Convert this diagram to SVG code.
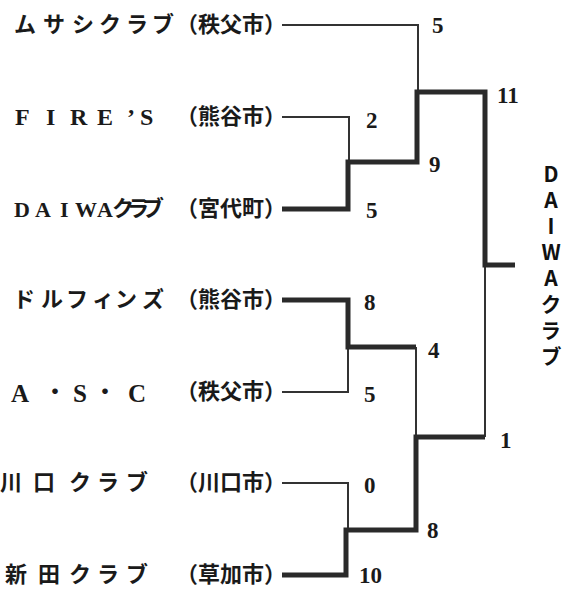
<svg xmlns="http://www.w3.org/2000/svg" width="567" height="589" viewBox="0 0 567 589">
<style>
.jp{font-family:"Noto Sans CJK JP","Noto Sans CJK SC",sans-serif;font-size:22px;font-weight:bold;fill:#1a1a1a}
.city{text-anchor:end}
.ctr{text-anchor:middle}
.lat{font-family:"Liberation Serif","Times New Roman",serif;font-weight:bold;fill:#1a1a1a}
.sc{font-family:"Liberation Serif","Times New Roman",serif;font-size:23px;font-weight:bold;fill:#1a1a1a}
.thin{fill:none;stroke:#333;stroke-width:2}
.thick{fill:none;stroke:#2a2a2a;stroke-width:5}
.win{font-family:"Noto Sans CJK JP",sans-serif;font-size:21px;font-weight:bold;fill:#111;writing-mode:vertical-rl;text-orientation:upright;letter-spacing:5px}
</style>
<rect width="567" height="589" fill="#fff"/>
<g id="team-musashi">
<text class="jp ctr" x="25 54 83 110 137 163" y="32">ムサシクラブ</text>
<text class="jp city" x="286" y="32">（秩父市）</text>
</g>
<g id="team-fires">
<text class="lat" font-size="24" x="15 46 70 97 127 140" y="125">FIRE’S</text>
<text class="jp city" x="286" y="124">（熊谷市）</text>
</g>
<g id="team-daiwa">
<text class="lat" font-size="22" x="14 35 60 75 97" y="217">DAIWA</text>
<text class="jp" font-size="16" x="112 127 142" y="216">クラブ</text>
<text class="jp city" x="286" y="216">（宮代町）</text>
</g>
<g id="team-dolphins">
<text class="jp ctr" x="24 52 77 103 126 153" y="307">ドルフィンズ</text>
<text class="jp city" x="286" y="307">（熊谷市）</text>
</g>
<g id="team-asc">
<text class="lat ctr" font-size="25" x="20" y="402">A</text>
<text class="jp ctr" x="55" y="399">・</text>
<text class="lat ctr" font-size="25" x="80" y="402">S</text>
<text class="jp ctr" x="105" y="399">・</text>
<text class="lat ctr" font-size="25" x="137" y="402">C</text>
<text class="jp city" x="286" y="399">（秩父市）</text>
</g>
<g id="team-kawaguchi">
<text class="jp ctr" x="11 44 80 108 137" y="490">川口クラブ</text>
<text class="jp city" x="286" y="490">（川口市）</text>
</g>
<g id="team-nitta">
<text class="jp ctr" x="16 49 80 108 137" y="582">新田クラブ</text>
<text class="jp city" x="286" y="582">（草加市）</text>
</g>
<g id="connectors">
<path class="thin" d="M282,25 H418 V92"/>
<path class="thin" d="M282,117 H349 V162"/>
<path class="thin" d="M282,392 H348 V347"/>
<path class="thin" d="M416,347 V437"/>
<path class="thin" d="M485,265 V437"/>
<path class="thin" d="M282,483 H348 V530"/>
<path class="thick" d="M282,209 H348 V162 H417 V92 H485 V265 H515"/>
<path class="thick" d="M282,300 H348 V347 H416"/>
<path class="thick" d="M282,575 H346 V530 H416 V437 H485"/>
</g>
<g id="scores">
<text class="sc" x="432" y="33">5</text>
<text class="sc" x="497" y="103">11</text>
<text class="sc" x="366" y="128">2</text>
<text class="sc" x="429" y="172">9</text>
<text class="sc" x="366" y="218">5</text>
<text class="sc" x="364" y="310">8</text>
<text class="sc" x="428" y="358">4</text>
<text class="sc" x="364" y="402">5</text>
<text class="sc" x="500" y="448">1</text>
<text class="sc" x="364" y="493">0</text>
<text class="sc" x="427" y="538">8</text>
<text class="sc" x="359" y="583">10</text>
</g>
<g id="winner">
<text class="win" x="551" y="164">DAIWAクラブ</text>
</g>
</svg>
